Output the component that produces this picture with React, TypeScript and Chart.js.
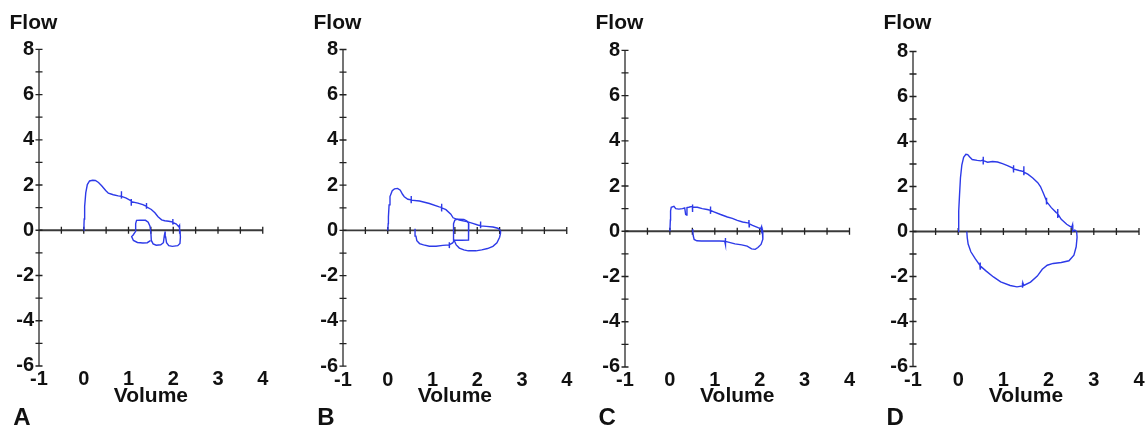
import React, { useEffect, useRef } from 'react';
import { Chart, registerables } from 'chart.js';

Chart.register(...registerables);

// ---- tick values ----
const xTickValues = [-1, 0, 1, 2, 3, 4];
const yTickValues = [-6, -4, -2, 0, 2, 4, 6, 8];
const xMinorTicks = [-0.5, 0, 0.5, 1, 1.5, 2, 2.5, 3, 3.5, 4];
const yMinorTicks = [-6, -5, -4, -3, -2, -1, 0, 1, 2, 3, 4, 5, 6, 7, 8];

const xAxisTitle = 'Volume';
const yAxisTitle = 'Flow';
const panelLetters = ['A', 'B', 'C', 'D'];

// ---- Panel A (volume, flow) ----
const aExpiration: [number, number][] = [
  [0, 0], [0.005, 0.25], [0.01, 0.5], [0.02, 1.05], [0.045, 1.65], [0.08, 2.02], [0.13, 2.18],
  [0.2, 2.21], [0.26, 2.2], [0.33, 2.11], [0.4, 1.97], [0.49, 1.76], [0.55, 1.64], [0.66, 1.57],
  [0.77, 1.52], [0.84, 1.5], [0.84, 1.72], [0.843, 1.4], [0.845, 1.5], [0.95, 1.42], [1.06, 1.3],
  [1.06, 1.38], [1.062, 1.08], [1.065, 1.26], [1.21, 1.2], [1.32, 1.13], [1.4, 1.06], [1.4, 1.2],
  [1.402, 0.95], [1.405, 1.04], [1.51, 0.92], [1.59, 0.77], [1.66, 0.6], [1.74, 0.46], [1.81, 0.42],
  [1.9, 0.4], [1.99, 0.36], [1.99, 0.5], [1.992, 0.25], [1.995, 0.34], [2.07, 0.27], [2.12, 0.16],
  [2.14, 0.22], [2.13, -0.12], [2.15, 0.12], [2.14, -0.15], [2.15, 0],
];
const aInspiration: [number, number][] = [
  [2.15, 0], [2.16, -0.3], [2.15, -0.58], [2.1, -0.68], [1.98, -0.71], [1.9, -0.68], [1.85, -0.55],
  [1.83, -0.3], [1.82, -0.05], [1.8, -0.25], [1.78, -0.55], [1.72, -0.64], [1.62, -0.66], [1.55, -0.6],
  [1.51, -0.45], [1.5, -0.1], [1.48, 0.18], [1.44, 0.36], [1.38, 0.44], [1.26, 0.45], [1.18, 0.44],
  [1.16, 0.3], [1.16, -0.05], [1.1, -0.22], [1.07, -0.28], [1.11, -0.45], [1.2, -0.54], [1.32, -0.56],
  [1.42, -0.55], [1.49, -0.46],
];

// ---- Panel B ----
const bExpiration: [number, number][] = [
  [0, 0], [0.01, 0.3], [0.015, 0.6], [0.03, 1.13], [0.05, 1.5], [0.1, 1.76], [0.15, 1.84], [0.22, 1.86],
  [0.28, 1.78], [0.33, 1.6], [0.37, 1.49], [0.45, 1.38], [0.52, 1.35], [0.52, 1.52], [0.525, 1.2],
  [0.53, 1.34], [0.71, 1.3], [0.93, 1.19], [1.15, 1.04], [1.2, 1.02], [1.2, 1.18], [1.205, 0.84],
  [1.21, 1.0], [1.3, 0.92], [1.41, 0.72], [1.46, 0.56], [1.6, 0.46], [1.79, 0.38], [1.9, 0.31],
  [2.01, 0.24], [2.07, 0.22], [2.07, 0.4], [2.075, 0.1], [2.08, 0.2], [2.2, 0.18], [2.35, 0.15],
  [2.46, 0.1], [2.52, 0],
];
const bInspiration: [number, number][] = [
  [2.52, 0], [2.52, -0.12], [2.5, -0.3], [2.44, -0.55], [2.35, -0.7], [2.23, -0.8], [2.1, -0.86],
  [1.97, -0.9], [1.8, -0.9], [1.7, -0.86], [1.6, -0.78], [1.53, -0.64], [1.48, -0.42], [1.47, -0.1],
  [1.47, 0.3], [1.5, 0.46], [1.56, 0.5], [1.7, 0.49], [1.77, 0.42], [1.81, 0.3], [1.81, -0.1],
  [1.8, -0.42], [1.65, -0.43], [1.49, -0.43], [1.45, -0.55], [1.38, -0.63], [1.38, -0.78],
  [1.378, -0.52], [1.37, -0.64], [1.23, -0.66], [1.08, -0.7], [0.93, -0.7], [0.8, -0.64],
  [0.71, -0.58], [0.65, -0.45], [0.63, -0.25], [0.61, 0], [0.61, 0.08],
];

// ---- Panel C ----
const cExpiration: [number, number][] = [
  [0, 0], [0.01, 0.5], [0.015, 0.9], [0.03, 1.06], [0.09, 1.1], [0.13, 1.0], [0.2, 0.98], [0.28, 1.0],
  [0.33, 1.03], [0.35, 0.75], [0.37, 0.72], [0.38, 1.05], [0.42, 1.06], [0.5, 1.1], [0.5, 1.18],
  [0.505, 0.85], [0.51, 1.07], [0.61, 1.06], [0.72, 1.0], [0.83, 0.96], [0.9, 0.93], [0.9, 1.1],
  [0.905, 0.77], [0.91, 0.92], [0.98, 0.86], [1.13, 0.74], [1.28, 0.63], [1.39, 0.57], [1.5, 0.48],
  [1.62, 0.41], [1.73, 0.37], [1.76, 0.36], [1.76, 0.5], [1.765, 0.2], [1.77, 0.33], [1.84, 0.26],
  [1.95, 0.17], [2.02, 0.11], [2.04, 0.2], [2.05, -0.1], [2.06, 0.12], [2.06, 0],
];
const cInspiration: [number, number][] = [
  [2.06, 0], [2.07, -0.15], [2.07, -0.35], [2.03, -0.58], [1.96, -0.72], [1.9, -0.8], [1.82, -0.78],
  [1.72, -0.66], [1.6, -0.6], [1.45, -0.56], [1.3, -0.48], [1.24, -0.45], [1.24, -0.3], [1.235, -0.6],
  [1.22, -0.44], [1.1, -0.43], [0.9, -0.43], [0.7, -0.43], [0.6, -0.42], [0.54, -0.36], [0.52, -0.2],
  [0.51, 0], [0.51, 0.1],
];

// ---- Panel D ----
const dExpiration: [number, number][] = [
  [0, 0], [0.008, 0.5], [0.015, 0.91], [0.03, 1.65], [0.05, 2.39], [0.08, 2.95], [0.12, 3.3],
  [0.17, 3.43], [0.21, 3.42], [0.25, 3.32], [0.31, 3.2], [0.42, 3.16], [0.5, 3.14], [0.55, 3.18],
  [0.55, 3.32], [0.553, 2.98], [0.56, 3.15], [0.65, 3.08], [0.76, 3.11], [0.87, 3.09], [0.98, 3.02],
  [1.09, 2.93], [1.2, 2.83], [1.22, 2.8], [1.22, 2.95], [1.225, 2.62], [1.23, 2.78], [1.35, 2.71],
  [1.45, 2.66], [1.45, 2.9], [1.455, 2.5], [1.46, 2.63], [1.54, 2.55], [1.65, 2.38], [1.76, 2.17],
  [1.82, 2.0], [1.88, 1.72], [1.95, 1.38], [1.95, 1.5], [1.955, 1.2], [1.96, 1.33], [2.06, 1.06],
  [2.17, 0.84], [2.2, 0.8], [2.2, 1.0], [2.205, 0.6], [2.21, 0.76], [2.28, 0.54], [2.4, 0.32],
  [2.51, 0.18], [2.53, 0.3], [2.535, 0.02], [2.58, 0.06], [2.62, 0],
];
const dInspiration: [number, number][] = [
  [2.62, 0], [2.63, -0.25], [2.61, -0.68], [2.56, -1.05], [2.45, -1.3], [2.28, -1.38], [2.1, -1.42],
  [1.97, -1.5], [1.86, -1.68], [1.75, -1.98], [1.6, -2.25], [1.45, -2.4], [1.43, -2.28], [1.425, -2.5],
  [1.42, -2.42], [1.3, -2.46], [1.15, -2.4], [0.94, -2.24], [0.78, -2.02], [0.62, -1.76], [0.5, -1.55],
  [0.49, -1.38], [0.485, -1.7], [0.48, -1.5], [0.38, -1.22], [0.28, -0.9], [0.22, -0.56], [0.2, -0.27],
  [0.19, 0],
];

const panelStrokes = [
  [aExpiration, aInspiration],
  [bExpiration, bInspiration],
  [cExpiration, cInspiration],
  [dExpiration, dInspiration],
];

// ---- layout (page pixels) ----
const panelGeometry = [
  { axisX: 39.3, top: 49.3, xUnit: 44.75, yUnit: 22.62 },
  { axisX: 343.3, top: 49.5, xUnit: 44.75, yUnit: 22.62 },
  { axisX: 624.5, top: 50.3, xUnit: 44.9, yUnit: 22.62 },
  { axisX: 912.5, top: 51.5, xUnit: 45.2, yUnit: 22.5 },
];

const FONT = "'Liberation Sans', Arial, Helvetica, sans-serif";
const TEXT = '#111111';
const LINE_BLUE = 'rgb(45, 58, 232)';
const CANVAS_W = 280;
const CANVAS_H = 429;
const AREA_LEFT = 40;

const crossAxesPlugin = {
  id: 'crossAxes',
  beforeDatasetsDraw(chart: any) {
    const { ctx } = chart;
    const xs = chart.scales.x;
    const ys = chart.scales.y;
    const x0 = xs.getPixelForValue(-1);
    const x1 = xs.getPixelForValue(4);
    const yTop = ys.getPixelForValue(8);
    const yBot = ys.getPixelForValue(-6);
    const yZero = ys.getPixelForValue(0);
    ctx.save();
    ctx.lineCap = 'butt';
    ctx.strokeStyle = '#5c5c5c';
    ctx.lineWidth = 1.7;
    ctx.beginPath();
    ctx.moveTo(x0, yTop);
    ctx.lineTo(x0, yBot);
    ctx.stroke();
    ctx.strokeStyle = '#3a3a3a';
    ctx.lineWidth = 1.8;
    ctx.beginPath();
    ctx.moveTo(x0, yZero);
    ctx.lineTo(x1, yZero);
    ctx.stroke();
    ctx.strokeStyle = '#222222';
    ctx.lineWidth = 1.3;
    ctx.beginPath();
    for (const v of yMinorTicks) {
      const p = ys.getPixelForValue(v);
      ctx.moveTo(x0 - 3.5, p);
      ctx.lineTo(x0 + 3.5, p);
    }
    for (const v of xMinorTicks) {
      const p = xs.getPixelForValue(v);
      ctx.moveTo(p, yZero - 3.5);
      ctx.lineTo(p, yZero + 3.5);
    }
    ctx.stroke();
    ctx.restore();
  },
};

function Panel({ index }: { index: number }) {
  const ref = useRef<HTMLCanvasElement | null>(null);
  const g = panelGeometry[index];

  useEffect(() => {
    if (!ref.current) return;
    const areaW = 5 * g.xUnit;
    const areaH = 14 * g.yUnit;
    const yAxisW = 29.5;
    const padLeft = AREA_LEFT - yAxisW;
    const titleLH = 21 * 1.2;
    const titlePadTop = 23.7 - titleLH / 2;
    const titlePadBottom = g.top - titlePadTop - titleLH;
    const xAxisH = CANVAS_H - g.top - areaH;
    const volLH = 21 * 1.2;
    const volPadBottom = CANVAS_H - 396 - volLH / 2;

    const chart = new Chart(ref.current, {
      type: 'scatter',
      data: {
        datasets: panelStrokes[index].map((s) => ({
          data: s.map(([x, y]) => ({ x, y })),
          showLine: true,
          borderColor: LINE_BLUE,
          backgroundColor: LINE_BLUE,
          borderWidth: 1.4,
          pointRadius: 0,
          pointHoverRadius: 0,
          tension: 0,
          fill: false,
        })),
      },
      options: {
        responsive: false,
        animation: false,
        devicePixelRatio: 1,
        events: [],
        layout: {
          padding: { left: padLeft, right: CANVAS_W - AREA_LEFT - areaW, top: 0, bottom: 0 },
        },
        plugins: {
          legend: { display: false },
          tooltip: { enabled: false },
          title: {
            display: true,
            text: yAxisTitle,
            align: 'start',
            color: TEXT,
            font: { family: FONT, size: 21, weight: 'bold', lineHeight: 1.2 },
            padding: { top: titlePadTop, bottom: titlePadBottom },
          },
        },
        scales: {
          x: {
            type: 'linear',
            position: 'bottom',
            min: -1,
            max: 4,
            grid: { display: false, drawTicks: false },
            border: { display: false },
            afterBuildTicks: (s: any) => {
              s.ticks = xTickValues.map((v) => ({ value: v }));
            },
            afterFit: (s: any) => {
              s.height = xAxisH;
            },
            ticks: {
              padding: 2,
              autoSkip: false,
              maxRotation: 0,
              color: TEXT,
              font: { family: FONT, size: 20, weight: 'bold', lineHeight: 1.2 },
            },
            title: {
              display: true,
              text: xAxisTitle,
              color: TEXT,
              font: { family: FONT, size: 21, weight: 'bold', lineHeight: 1.2 },
              padding: { top: 0, bottom: volPadBottom },
            },
          },
          y: {
            type: 'linear',
            position: 'left',
            min: -6,
            max: 8,
            grid: { display: false, drawTicks: false },
            border: { display: false },
            afterBuildTicks: (s: any) => {
              s.ticks = yTickValues.map((v) => ({ value: v }));
            },
            afterFit: (s: any) => {
              s.width = yAxisW;
            },
            ticks: {
              padding: 5,
              autoSkip: false,
              color: TEXT,
              font: { family: FONT, size: 20, weight: 'bold', lineHeight: 1.2 },
            },
          },
        },
      } as any,
      plugins: [crossAxesPlugin],
    });
    return () => chart.destroy();
  }, [index]);

  return (
    <>
      <canvas
        ref={ref}
        width={CANVAS_W}
        height={CANVAS_H}
        style={{ position: 'absolute', left: g.axisX - AREA_LEFT, top: 0, width: CANVAS_W, height: CANVAS_H }}
      />
      <div
        style={{
          position: 'absolute',
          left: g.axisX - 26,
          top: 405,
          fontFamily: FONT,
          fontWeight: 'bold',
          fontSize: 24,
          lineHeight: '24px',
          color: TEXT,
        }}
      >
        {panelLetters[index]}
      </div>
    </>
  );
}

export default function App() {
  return (
    <div
      style={{
        position: 'absolute',
        left: 0,
        top: 0,
        width: 1147,
        height: 429,
        overflow: 'hidden',
        background: '#ffffff',
      }}
    >
      {[0, 1, 2, 3].map((i) => (
        <Panel key={i} index={i} />
      ))}
    </div>
  );
}
